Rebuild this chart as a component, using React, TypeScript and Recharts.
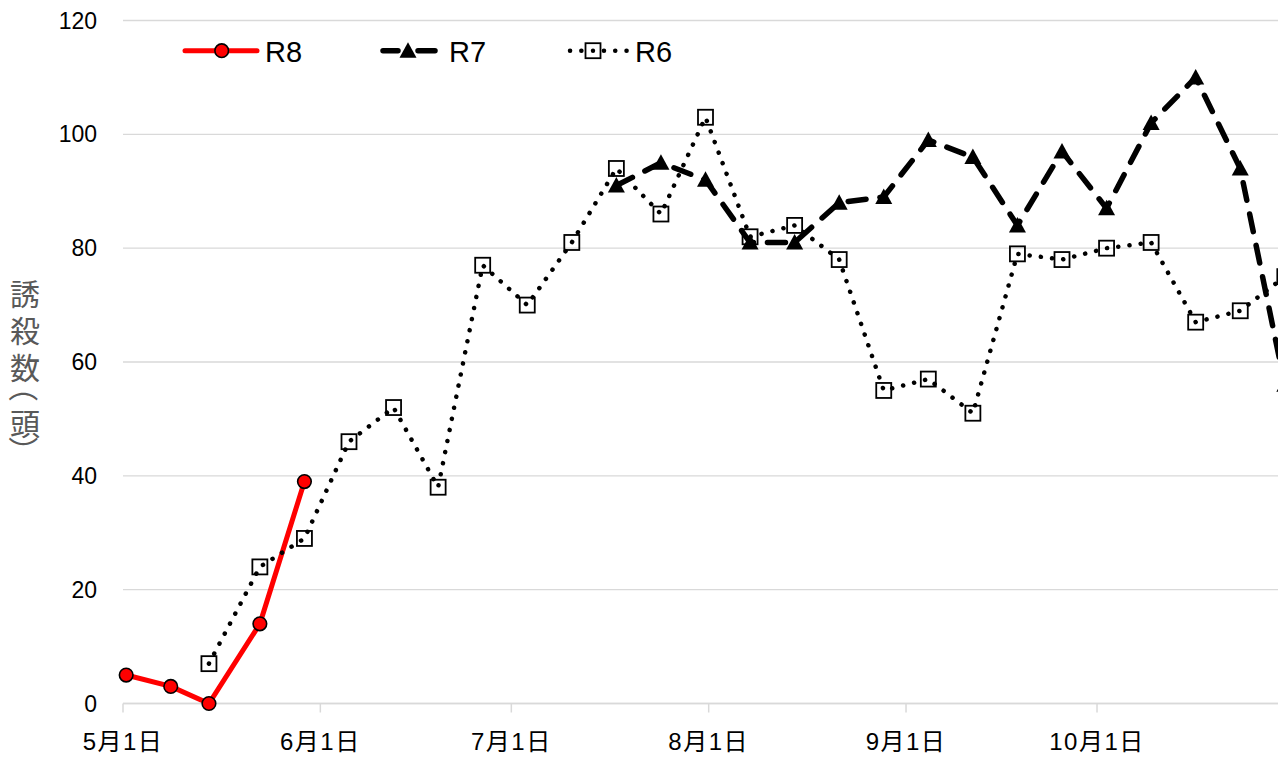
import React from 'react';
import { LineChart, Line, XAxis, YAxis, CartesianGrid } from 'recharts';

// ---- data ----
const r8Dates = ['5/1', '5/8', '5/14', '5/22', '5/29'];
const r8Values = [5, 3, 0, 14, 39];

const r7Dates = ['7/17', '7/24', '7/31', '8/7', '8/14', '8/21', '8/28', '9/4', '9/11', '9/18', '9/25', '10/2', '10/9', '10/16', '10/23', '10/30'];
const r7Values = [91, 95, 92, 81, 81, 88, 89, 99, 96, 84, 97, 87, 102, 110, 94, 56];

const r6Dates = ['5/14', '5/22', '5/29', '6/5', '6/12', '6/19', '6/26', '7/3', '7/10', '7/17', '7/24', '7/31', '8/7', '8/14', '8/21', '8/28', '9/4', '9/11', '9/18', '9/25', '10/2', '10/9', '10/16', '10/23', '10/30'];
const r6Values = [7, 24, 29, 46, 52, 38, 77, 70, 81, 94, 86, 103, 82, 84, 78, 55, 57, 51, 79, 78, 80, 81, 67, 69, 75];

const tickDates = ['5/1', '6/1', '7/1', '8/1', '9/1', '10/1'];
const tickLabels = ['5月1日', '6月1日', '7月1日', '8月1日', '9月1日', '10月1日'];
const yTicks = [0, 20, 40, 60, 80, 100, 120];
const yTitle = '誘殺数（頭）';

// days from May 1 to the start of each month
const monthStart: Record<number, number> = { 5: 0, 6: 31, 7: 61, 8: 92, 9: 123, 10: 153, 11: 184 };
const dayIndex = (s: string) => {
  const [m, d] = s.split('/').map(Number);
  return monthStart[m] + d - 1;
};
// date axis: a point sits in the middle of its day
const toRows = (dates: string[], values: number[]) =>
  dates.map((d, i) => ({ x: dayIndex(d) + 0.5, v: values[i] }));

const r8Data = toRows(r8Dates, r8Values);
const r7Data = toRows(r7Dates, r7Values);
const r6Data = toRows(r6Dates, r6Values);
const xTicks = tickDates.map(dayIndex);
const tickLabelOf = (v: number) => tickLabels[xTicks.indexOf(v)] ?? '';

const FONT = "'Liberation Sans', 'Noto Sans CJK JP', sans-serif";
const CJK = "'Noto Sans CJK JP', sans-serif";
const GRID = '#d9d9d9';

const circleDot = (p: any) => (
  <circle key={`c${p.index}`} cx={p.cx} cy={p.cy} r={6.8} fill="#ff0000" stroke="#000" strokeWidth={1.6} />
);
const triDot = (p: any) => (
  <polygon
    key={`t${p.index}`}
    points={`${p.cx},${p.cy - 8.5} ${p.cx + 8.5},${p.cy + 7} ${p.cx - 8.5},${p.cy + 7}`}
    fill="#000"
  />
);
const squareDot = (p: any) => (
  <rect key={`s${p.index}`} x={p.cx - 7.5} y={p.cy - 7.5} width={15} height={15} fill="none" stroke="#000" strokeWidth={1.8} />
);

// vertical (stacked, upright) axis title; parentheses turned to their vertical form
const YLabel = () => {
  const cx = 17;
  const fs = 30;
  const anchors = [283.5, 321, 358, 379, 413.5, 443]; // svg-space anchor of each glyph
  return (
    <g>
      {Array.from(yTitle).map((ch, i) => {
        const cy = anchors[i];
        const isParen = ch === '（' || ch === '）';
        return (
          <text
            key={i}
            x={cx}
            y={cy}
            textAnchor="middle"
            dominantBaseline="central"
            fill="#595959"
            fontSize={fs}
            fontFamily={CJK}
            transform={isParen ? `rotate(90 ${cx} ${cy})` : undefined}
          >
            {ch}
          </text>
        );
      })}
    </g>
  );
};

const LegendOverlay = () => (
  <svg
    width={540}
    height={50}
    style={{ position: 'absolute', left: 162, top: 17, overflow: 'visible' }}
  >
    {/* R8 */}
    <line x1={15} y1={25.7} x2={87} y2={25.7} stroke="#ff0000" strokeWidth={5} strokeLinecap="round" />
    <circle cx={51.7} cy={25.7} r={6.8} fill="#ff0000" stroke="#000" strokeWidth={1.6} />
    <text x={95} y={36.5} fontSize={29} fontFamily={FONT} fill="#000">R8</text>
    {/* R7 */}
    <line x1={213} y1={25.7} x2={228} y2={25.7} stroke="#000" strokeWidth={5.5} strokeLinecap="round" />
    <line x1={248} y1={25.7} x2={265} y2={25.7} stroke="#000" strokeWidth={5.5} strokeLinecap="round" />
    <polygon points={`238,17.2 246.5,32.7 229.5,32.7`} fill="#000" />
    <text x={279} y={36.5} fontSize={29} fontFamily={FONT} fill="#000">R7</text>
    {/* R6 */}
    <line x1={400} y1={25.7} x2={458} y2={25.7} stroke="#000" strokeWidth={4.5} strokeDasharray="0.1 11.2" strokeLinecap="round" />
    <rect x={415.5} y={18.2} width={15} height={15} fill="#fff" stroke="#000" strokeWidth={1.8} />
    <circle cx={423} cy={25.7} r={2.2} fill="#000" />
    <text x={465} y={36.5} fontSize={29} fontFamily={FONT} fill="#000">R6</text>
  </svg>
);

export default function App() {
  return (
    <div style={{ position: 'relative', width: 1278, height: 750, overflow: 'hidden' }}>
      <LineChart
        width={1280}
        height={750}
        margin={{ top: 12.5, right: 0, bottom: 5.5, left: 55 }}
        style={{ fontFamily: FONT }}
      >
        <CartesianGrid vertical={false} stroke={GRID} strokeWidth={1.4} />
        <XAxis
          dataKey="x"
          type="number"
          domain={[0, 183]}
          ticks={xTicks}
          tickFormatter={tickLabelOf}
          interval={0}
          height={49}
          stroke={GRID}
          strokeWidth={1.5}
          tickSize={9}
          tickMargin={20}
          tick={{ fill: '#000', fontSize: 24, fontFamily: FONT, letterSpacing: 1.5 }}
          allowDuplicatedCategory={false}
        />
        <YAxis
          type="number"
          domain={[0, 120]}
          ticks={yTicks}
          width={60}
          axisLine={false}
          tickLine={false}
          tickSize={0}
          tickMargin={26}
          tick={{ fill: '#000', fontSize: 23, fontFamily: FONT }}
          label={{ content: YLabel }}
        />
        <Line
          data={r8Data}
          dataKey="v"
          stroke="#ff0000"
          strokeWidth={5}
          dot={circleDot}
          activeDot={false}
          isAnimationActive={false}
        />
        <Line
          data={r7Data}
          dataKey="v"
          stroke="#000"
          strokeWidth={5.5}
          strokeDasharray="18 14"
          strokeLinecap="round"
          dot={triDot}
          activeDot={false}
          isAnimationActive={false}
        />
        <Line
          data={r6Data}
          dataKey="v"
          stroke="#000"
          strokeWidth={4.5}
          strokeDasharray="0.1 11.2"
          strokeLinecap="round"
          dot={squareDot}
          activeDot={false}
          isAnimationActive={false}
        />
      </LineChart>
      <LegendOverlay />
    </div>
  );
}
